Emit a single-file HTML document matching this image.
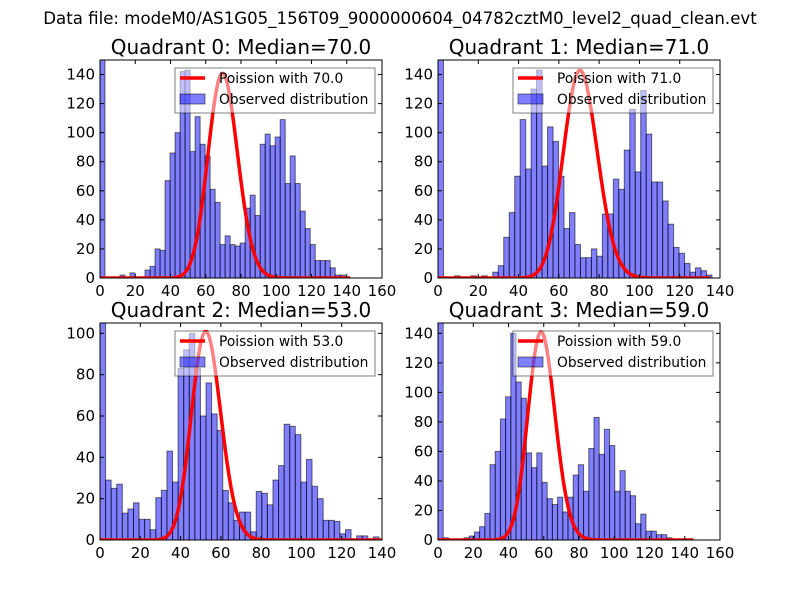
<!DOCTYPE html>
<html><head><meta charset="utf-8">
<style>
body{margin:0;background:#fff;}
svg text{font-family:"DejaVu Sans","Liberation Sans",sans-serif;fill:#000;}
</style></head>
<body>
<svg id="fig" width="800" height="600" viewBox="0 0 800 600" xmlns="http://www.w3.org/2000/svg">
<rect width="800" height="600" fill="#fff"/>
<text x="400" y="24" font-size="16.6" text-anchor="middle">Data file: modeM0/AS1G05_156T09_9000000604_04782cztM0_level2_quad_clean.evt</text>
</svg>
<script>
const q0Counts=[400,0,0,0,2,0,3.5,0,0,5.5,8,20,19,67,86,100,142,143,87,111,92,84,61,52,23,29,23,22,24,48,57,43,92,99,91,97,109,65,84,65,46,34,23,12,12,12,7,2,2,0];
const q1Counts=[400,0,0,1.5,0,0,1.5,0,1.5,0,4,8.5,28,45,70,109,75,130,143,77,104,94,70,34,45,23,14,14,20,15,44,44,68,61,88,116,73,129,99,66,66,53,37,21,17,10,4,7,5,2];
const q2Counts=[400,29,25,27,13,15,18,10,10,5,20.5,24,43,28,83,92,100,83,60,76,61,53,24,18,9.5,13.5,13.5,4,23.5,22.6,17,29,36,56,55,51,28,39,26,20,9.5,9.5,9,3,5,0.5,2,2,0,1.5];
const q3Counts=[400,1.5,0,0,0,1.5,2.7,5.4,9,18,51,60,82,97,140,107,96,59,49,59,39,28,24,29,19,29,44,51,33,62,83,58,75,64,33,47,33,30,11,17.5,6,6,3.6,3.6,1.5];
const binWidths=[2.84,2.72,2.77,2.95];
const medians=[70.0,71.0,53.0,59.0];
const poissonScale=[2957,3020,1843,2715];
const curveEnds=[142,135,140,145];
const xMaxes=[160,140,140,160];
const yMaxes=[150,150,105,147];
const xTickLabels=[[0,20,40,60,80,100,120,140,160],[0,20,40,60,80,100,120,140],[0,20,40,60,80,100,120,140],[0,20,40,60,80,100,120,140,160]];
const yTickLabels=[[0,20,40,60,80,100,120,140],[0,20,40,60,80,100,120,140],[0,20,40,60,80,100],[0,20,40,60,80,100,120,140]];
const allCounts=[q0Counts,q1Counts,q2Counts,q3Counts];

const NS="http://www.w3.org/2000/svg";
const fig=document.getElementById('fig');
const boxes=[[100,60,382,278],[438,60,720,278],[100,323,382,540],[438,323,720,540]];
function mk(tag,attrs,parent){const e=document.createElementNS(NS,tag);for(const k in attrs)e.setAttribute(k,attrs[k]);(parent||fig).appendChild(e);return e;}
function lnFact(k){let s=0;for(let i=2;i<=k;i++)s+=Math.log(i);return s;}

for(let q=0;q<4;q++){
  const [L,T,R,B]=boxes[q];
  const xs=v=>L+(R-L)*v/xMaxes[q];
  const ys=v=>B-(B-T)*v/yMaxes[q];
  const g=mk('g',{});
  
  
  const cp=mk('clipPath',{id:'clip'+q},g);
  mk('rect',{x:L,y:T,width:R-L,height:B-T},cp);
  const plot=mk('g',{'clip-path':'url(#clip'+q+')'},g);
  const counts=allCounts[q],w=binWidths[q];
  counts.forEach((c,i)=>{
    if(c<=0)return;
    const x0=xs(i*w),x1=xs((i+1)*w);
    const r=mk('rect',{x:x0,y:ys(c),width:x1-x0,height:B-ys(c),fill:'rgba(0,0,255,0.5)',stroke:'rgba(0,0,0,0.55)','stroke-width':1},plot);
    
    
  });
  let d='';
  for(let k=0;k<=curveEnds[q];k++){
    const p=Math.exp(k*Math.log(medians[q])-medians[q]-lnFact(k))*poissonScale[q];
    d+=(k?'L':'M')+xs(k).toFixed(2)+','+ys(p).toFixed(2);
  }
  const curve=mk('path',{d:d,fill:'none',stroke:'#ff0000','stroke-width':3.5,'stroke-linejoin':'round'},plot);
  
  
  mk('rect',{x:L,y:T,width:R-L,height:B-T,fill:'none',stroke:'#000','stroke-width':1},g);
  xTickLabels[q].forEach(v=>{
    const x=xs(v);
    mk('line',{x1:x,y1:B,x2:x,y2:B-4,stroke:'#000'},g);
    mk('line',{x1:x,y1:T,x2:x,y2:T+4,stroke:'#000'},g);
    const t=mk('text',{x:x,y:B+18,'font-size':15,'text-anchor':'middle'},g);
    t.textContent=v;
    
    
  });
  yTickLabels[q].forEach(v=>{
    const y=ys(v);
    mk('line',{x1:L,y1:y,x2:L+4,y2:y,stroke:'#000'},g);
    mk('line',{x1:R,y1:y,x2:R-4,y2:y,stroke:'#000'},g);
    const t=mk('text',{x:L-5,y:y+5,'font-size':15,'text-anchor':'end'},g);
    t.textContent=v;
    
    
  });
  const title=mk('text',{x:(L+R)/2,y:T-6,'font-size':20,'text-anchor':'middle'},g);
  title.textContent='Quadrant '+q+': Median='+medians[q].toFixed(1);
  
  
  const lg=mk('g',{},g);
  
  
  const lx=L+75,ly=T+8;
  mk('rect',{x:lx,y:ly,width:200,height:45,fill:'rgba(255,255,255,0.5)',stroke:'rgba(0,0,0,0.5)','stroke-width':1},lg);
  mk('line',{x1:lx+5,y1:ly+10,x2:lx+30,y2:ly+10,stroke:'#ff0000','stroke-width':3.5},lg);
  const t1=mk('text',{x:lx+44,y:ly+15,'font-size':13.8},lg);
  t1.textContent='Poission with '+medians[q].toFixed(1);
  
  
  mk('rect',{x:lx+5,y:ly+26,width:25,height:10,fill:'rgba(0,0,255,0.5)',stroke:'rgba(0,0,0,0.5)'},lg);
  const t2=mk('text',{x:lx+44,y:ly+36,'font-size':13.8},lg);
  t2.textContent='Observed distribution';
  
  
}
</script>
</body></html>
